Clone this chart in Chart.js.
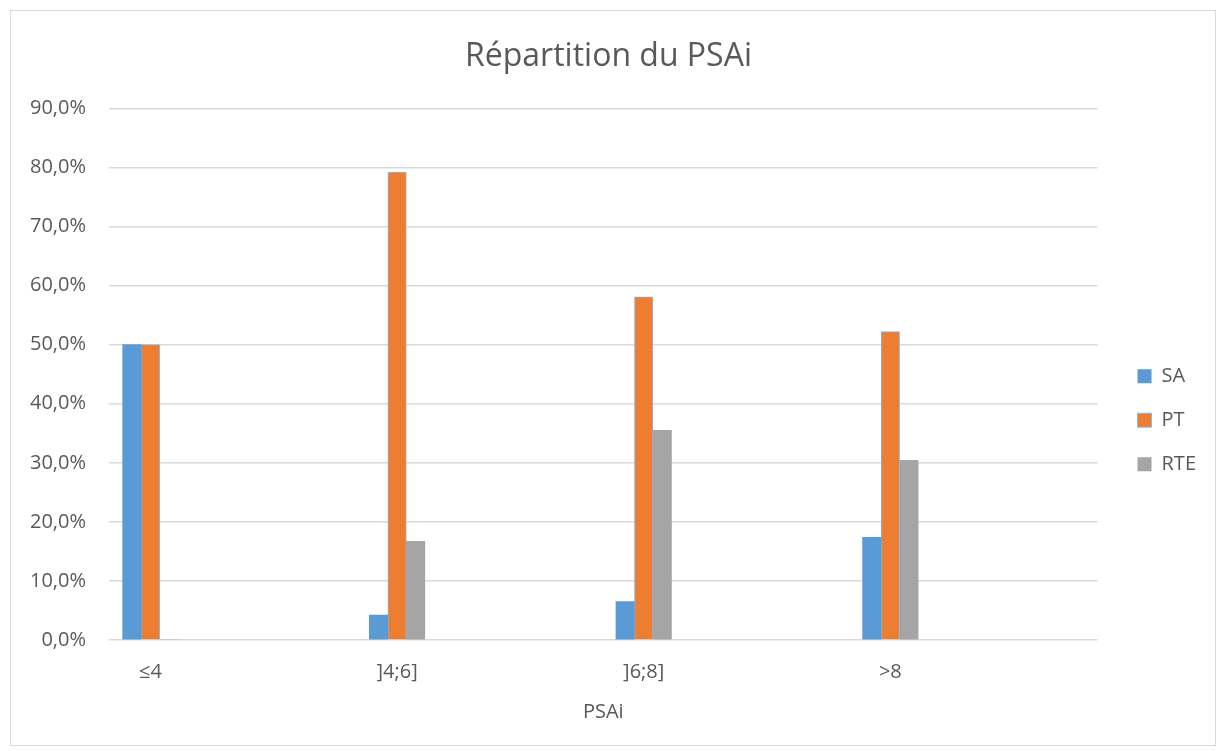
<!DOCTYPE html>
<html>
<head>
<meta charset="utf-8">
<script src="https://cdn.jsdelivr.net/npm/chart.js@4"></script>
<style>
  html, body { margin: 0; padding: 0; background: #ffffff; }
  #frame { position: absolute; left: 10px; top: 10px; width: 1204px; height: 734px; border: 1px solid #d9d9d9; }
  #c { display: block; }
</style>
</head>
<body>
<div id="frame"><canvas id="c" width="1204" height="734"></canvas></div>
<script>
const categories = ['≤4', ']4;6]', ']6;8]', '>8'];
const seriesSA = [50.0, 4.2, 6.5, 17.4];
const seriesPT = [50.0, 79.2, 58.1, 52.2];
const seriesRTE = [0.0, 16.7, 35.5, 30.4];
const yTicks = [0, 10, 20, 30, 40, 50, 60, 70, 80, 90];

const FONT = "'Open Sans', 'Noto Sans', sans-serif";
const toPts = arr => arr.map((v, i) => ({ x: i, y: v }));

new Chart(document.getElementById('c'), {
  type: 'bar',
  data: {
    datasets: [
      { label: 'SA', data: toPts(seriesSA), backgroundColor: '#5B9BD5', borderWidth: 0 },
      { label: 'PT', data: toPts(seriesPT), backgroundColor: '#ED7D31', borderColor: '#8FB8E0', borderWidth: 1 },
      { label: 'RTE', data: toPts(seriesRTE), backgroundColor: '#A5A5A5', borderWidth: 0 }
    ]
  },
  options: {
    responsive: false,
    animation: false,
    barThickness: 18.5,
    layout: { padding: { left: 0, right: 9, top: 0, bottom: 21 } },
    plugins: {
      title: {
        display: true,
        text: 'Répartition du PSAi',
        color: '#595959',
        font: { family: FONT, size: 32, weight: 'normal' },
        padding: { top: 27, bottom: 32 }
      },
      legend: {
        position: 'right',
        title: { display: true, text: '', font: { size: 12 }, padding: { top: 91, bottom: 0 } },
        labels: {
          color: '#595959',
          font: { family: FONT, size: 20 },
          boxWidth: 14,
          boxHeight: 14,
          padding: 24
        }
      },
      tooltip: { enabled: false }
    },
    scales: {
      x: {
        type: 'linear',
        offset: false,
        min: -0.168,
        max: 3.84,
        afterBuildTicks: (axis) => { axis.ticks = categories.map((_, i) => ({ value: i })); },
        afterFit: (s) => { s.height = 84; },
        ticks: {
          color: '#595959',
          font: { family: FONT, size: 20 },
          padding: 20,
          maxRotation: 0,
          callback: (v) => categories[v] ?? ''
        },
        grid: { display: false, drawTicks: false, offset: false },
        border: { display: false },
        title: {
          display: true,
          text: 'PSAi',
          color: '#595959',
          font: { family: FONT, size: 20 },
          padding: { top: 16, bottom: 0 }
        }
      },
      y: {
        min: 0,
        max: 90,
        afterBuildTicks: (axis) => { axis.ticks = yTicks.map(v => ({ value: v })); },
        afterFit: (s) => { s.width = 98; },
        ticks: {
          color: '#595959',
          font: { family: FONT, size: 20 },
          padding: 23,
          callback: (v) => v.toFixed(1).replace('.', ',') + '%'
        },
        grid: { color: '#d9d9d9', lineWidth: 1.5, drawTicks: false },
        border: { display: false }
      },
      gap: {
        type: 'linear',
        position: 'right',
        display: true,
        ticks: { display: false },
        grid: { display: false, drawTicks: false },
        border: { display: false },
        afterFit: (s) => { s.width = 16; }
      }
    }
  }
});
</script>
</body>
</html>
